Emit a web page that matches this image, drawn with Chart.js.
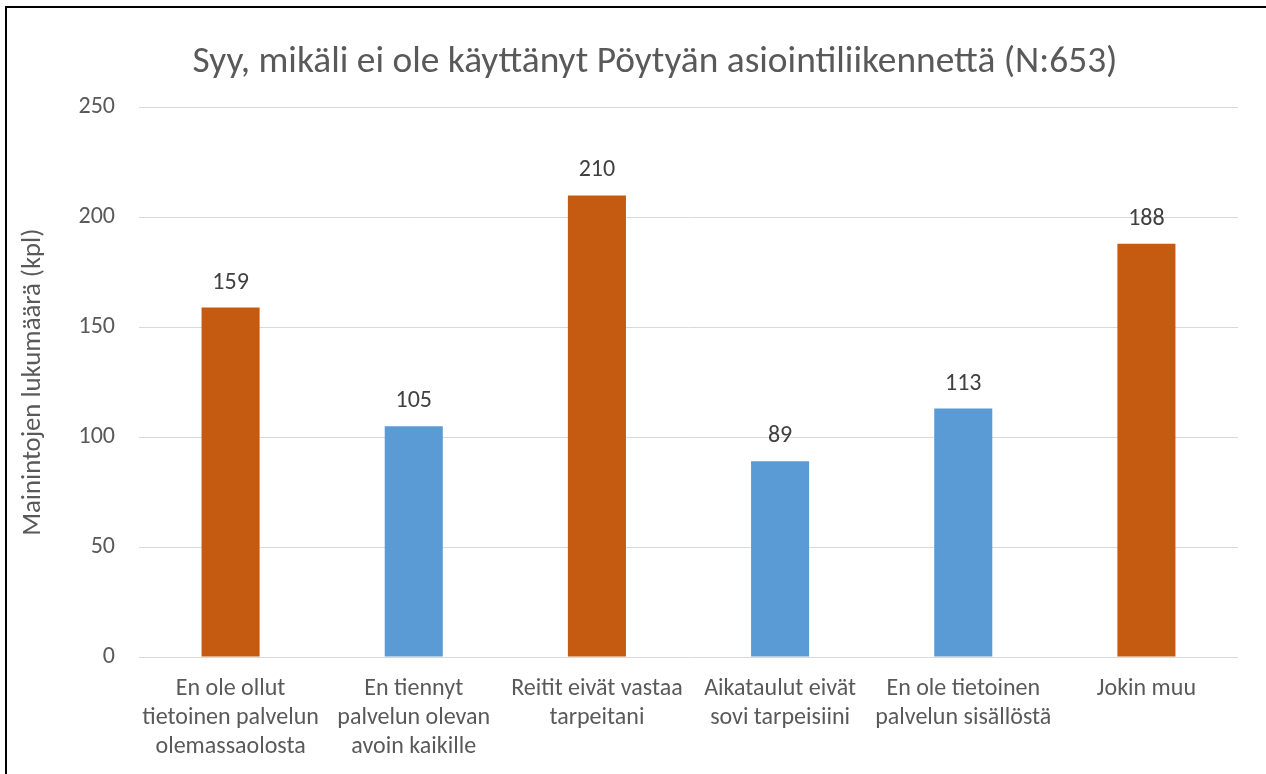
<!DOCTYPE html>
<html>
<head>
<meta charset="utf-8">
<script src="https://cdn.jsdelivr.net/npm/chart.js@4.4.1/dist/chart.umd.min.js"></script>
<style>
  html, body { margin: 0; padding: 0; background: #ffffff; overflow: hidden; }
  #wrap { position: relative; width: 1266px; height: 774px; overflow: hidden; }
  #frame { position: absolute; left: 5px; top: 6px; width: 1300px; height: 800px; border: 2px solid #000; pointer-events: none; }
  canvas { position: absolute; left: 0; top: 0; }
</style>
</head>
<body>
<div id="wrap">
  <canvas id="c" width="1310" height="774"></canvas>
  <div id="frame"></div>
</div>
<script>
const chartTitle = "Syy, mikäli ei ole käyttänyt Pöytyän asiointiliikennettä (N:653)";
const yAxisTitle = "Mainintojen lukumäärä (kpl)";
const categories = [
  ["En ole ollut", "tietoinen palvelun", "olemassaolosta"],
  ["En tiennyt", "palvelun olevan", "avoin kaikille"],
  ["Reitit eivät vastaa", "tarpeitani"],
  ["Aikataulut eivät", "sovi tarpeisiini"],
  ["En ole tietoinen", "palvelun sisällöstä"],
  ["Jokin muu"]
];
const values = [159, 105, 210, 89, 113, 188];
const yTicks = [0, 50, 100, 150, 200, 250];

const ORANGE = "#C55A11";
const BLUE = "#5B9BD5";
const barColors = [ORANGE, BLUE, ORANGE, BLUE, BLUE, ORANGE];
const FONT = "Carlito, Lato, 'Liberation Sans', sans-serif";

const dataLabels = {
  id: "dataLabels",
  afterDatasetsDraw(chart) {
    const ctx = chart.ctx;
    const meta = chart.getDatasetMeta(0);
    ctx.save();
    ctx.font = "24px " + FONT;
    ctx.fillStyle = "#404040";
    ctx.textAlign = "center";
    ctx.textBaseline = "middle";
    meta.data.forEach((bar, i) => {
      ctx.fillText(String(values[i]), bar.x, bar.y - 25);
    });
    ctx.restore();
  }
};

new Chart(document.getElementById("c"), {
  type: "bar",
  data: {
    labels: categories,
    datasets: [{
      data: values,
      backgroundColor: barColors,
      borderWidth: 0,
      categoryPercentage: 1,
      barPercentage: 0.317
    }]
  },
  options: {
    responsive: false,
    animation: false,
    devicePixelRatio: 1,
    layout: { padding: { left: 0, right: 0, top: 0, bottom: 0 } },
    plugins: {
      legend: { display: false },
      tooltip: { enabled: false },
      title: {
        display: true,
        text: chartTitle,
        color: "#595959",
        font: { family: FONT, size: 37.4, weight: "normal", lineHeight: 1.2 },
        padding: { top: 40, bottom: 22.6 }
      }
    },
    scales: {
      x: {
        grid: { display: false, drawTicks: false },
        border: { display: false },
        ticks: {
          color: "#595959",
          font: { family: FONT, size: 24, lineHeight: 1.21 },
          padding: 17,
          maxRotation: 0,
          autoSkip: false
        },
        afterFit(scale) { scale.height = 117; }
      },
      y: {
        min: 0,
        max: 250,
        afterBuildTicks(scale) { scale.ticks = yTicks.map(v => ({ value: v })); },
        grid: { color: "#D9D9D9", lineWidth: 1, drawTicks: false },
        border: { display: false },
        ticks: {
          color: "#595959",
          font: { family: FONT, size: 24 },
          padding: 24
        },
        title: {
          display: true,
          text: yAxisTitle,
          color: "#595959",
          font: { family: FONT, size: 26.7, lineHeight: 1.2 },
          padding: { top: 17, bottom: 0 }
        },
        afterFit(scale) { scale.width = 139; }
      },
      rightSpace: {
        type: "linear",
        position: "right",
        display: true,
        grid: { display: false, drawTicks: false },
        border: { display: false },
        ticks: { display: false },
        afterFit(scale) { scale.width = 72; }
      }
    }
  },
  plugins: [dataLabels]
});
</script>
</body>
</html>
